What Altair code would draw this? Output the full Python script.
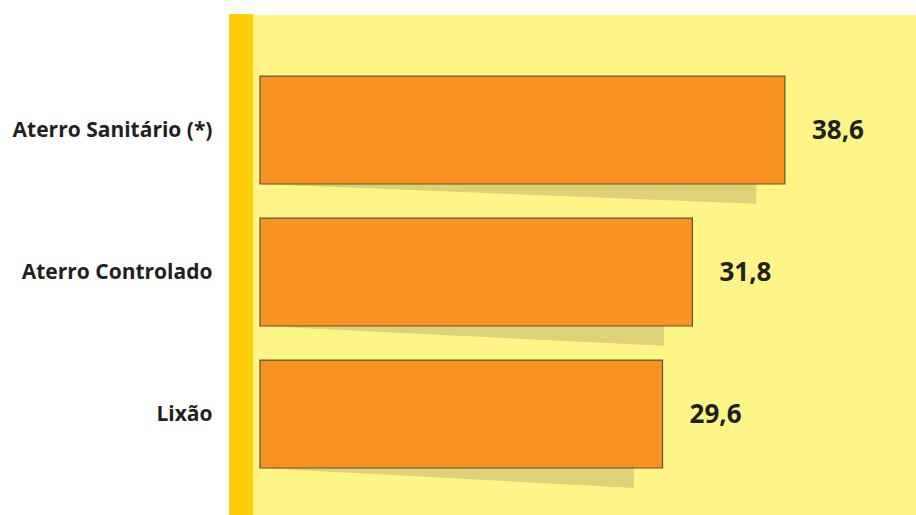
import altair as alt
import pandas as pd

categories = ["Aterro Sanitário (*)", "Aterro Controlado", "Lixão"]
values = [38.6, 31.8, 29.6]

idx = list(range(len(categories)))
HALF = 0.38      # bar half-height in category units
DROP = 0.14      # shadow drop in category units
SHADOW_SHORT = 2.1

bars = pd.DataFrame({"cat": categories, "idx": idx, "v": values})
bars["y0"] = bars["idx"] - HALF
bars["y1"] = bars["idx"] + HALF
bars["lab"] = [f"{v:.1f}".replace(".", ",") for v in values]

rows = []
for c, i, v in zip(categories, idx, values):
    b = i + HALF
    rows.append({"cat": c, "x": 0, "y": b, "y2": b})
    rows.append({"cat": c, "x": v - SHADOW_SHORT, "y": b, "y2": b + DROP})
shadow = pd.DataFrame(rows)

W, H = 687, 500
xscale = alt.Scale(domain=[-2.28, 48.24], nice=False, zero=False)
yscale = alt.Scale(domain=[-0.81, 2.711], nice=False, zero=False, reverse=True)

label_expr = "[" + ",".join(f"'{c}'" for c in categories) + "][datum.value]"

stripe = alt.Chart(pd.DataFrame({"a": [0]})).mark_rect(color="#FFCC05").encode(
    x=alt.value(0), x2=alt.value(24), y=alt.value(-1), y2=alt.value(H)
)

shad = alt.Chart(shadow).mark_area(color="#DDD277", orient="vertical").encode(
    x=alt.X("x:Q", scale=xscale, axis=None),
    y=alt.Y("y:Q", scale=yscale),
    y2="y2:Q",
    detail="cat:N",
)

rect = alt.Chart(bars).mark_rect(color="#F7931E", stroke="#5E5440", strokeWidth=1.2).encode(
    x=alt.X("zero:Q", scale=xscale, axis=None),
    x2="v:Q",
    y=alt.Y("y0:Q", scale=yscale,
            axis=alt.Axis(values=idx, labelExpr=label_expr, title=None, domain=False,
                          ticks=False, grid=False, labelPadding=17, labelLimit=0,
                          labelFont="Open Sans", labelFontWeight="bold",
                          labelFontSize=21, labelColor="#231F20")),
    y2="y1:Q",
).transform_calculate(zero="0")

txt = alt.Chart(bars).mark_text(
    align="left", baseline="middle", dx=27, dy=1, font="Open Sans", fontWeight="bold",
    fontSize=26, color="#231F20"
).encode(
    x=alt.X("v:Q", scale=xscale),
    y=alt.Y("idx:Q", scale=yscale),
    text="lab:N",
)

chart = alt.layer(shad, rect, txt, stripe).properties(
    width=W, height=H,
    autosize=alt.AutoSizeParams(type="none"),
    padding={"left": 229, "top": 15, "right": 0, "bottom": 0},
    background="white",
).configure_view(fill="#FFF587", stroke=None)

chart.save("out.html", embed_options={"renderer": "svg", "actions": False})
